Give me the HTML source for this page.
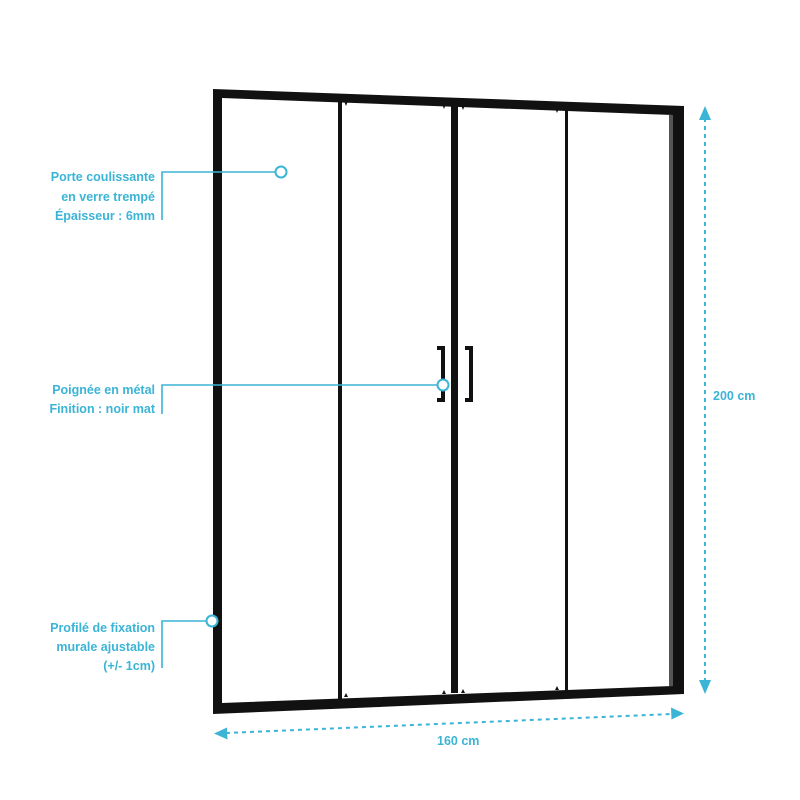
<!DOCTYPE html>
<html><head><meta charset="utf-8"><style>
html,body{margin:0;padding:0;background:#fff;}
svg{display:block;}
text{font-family:"Liberation Sans",sans-serif;font-size:12.5px;font-weight:bold;fill:#3bb4d6;}
</style></head><body>
<svg width="800" height="800" viewBox="0 0 800 800" xmlns="http://www.w3.org/2000/svg">
<path d="M213,89 L684,106 L684,694 L213,714 Z M222,98 L222,703 L673,686 L673,115 Z" fill="#111" fill-rule="evenodd"/>
<rect x="669" y="115" width="4" height="571" fill="#555"/>
<rect x="338" y="101" width="4" height="602" fill="#111"/>
<rect x="451" y="105" width="7" height="588" fill="#111"/>
<rect x="565" y="108" width="3" height="583" fill="#111"/>
<g fill="#111">
<path d="M344,101 l4,0 l-2,5 z"/><path d="M442,104 l4,0 l-2,5 z"/><path d="M461,105 l4,0 l-2,5 z"/><path d="M555,108 l4,0 l-2,5 z"/>
<path d="M346,693 l-2,4 l4,0 z"/><path d="M444,690 l-2,4 l4,0 z"/><path d="M463,689 l-2,4 l4,0 z"/><path d="M557,686 l-2,4 l4,0 z"/>
</g>
<path d="M437,346 h8 v56 h-8 v-4 h4 v-48 h-4 z" fill="#111"/>
<path d="M465,346 h8 v56 h-8 v-4 h4 v-48 h-4 z" fill="#111"/>
<g stroke="#3bb4d6" stroke-width="1.6" fill="none">
<path d="M162,220 V172 H276"/><circle cx="281" cy="172" r="5.5" fill="#fff" stroke-width="2"/>
<path d="M162,414 V385 H438"/><circle cx="443" cy="385" r="5.5" fill="#fff" stroke-width="2"/>
<path d="M162,668 V621 H207"/><circle cx="212" cy="621" r="5.5" fill="#fff" stroke-width="2"/>
<path d="M705,118 V684" stroke-width="2" stroke-dasharray="4,4"/>
<path d="M226,733 L672,714" stroke-width="2" stroke-dasharray="4,4"/>
</g>
<g fill="#3bb4d6">
<path d="M705,106 l-6,14 l12,0 z"/>
<path d="M705,694 l-6,-14 l12,0 z"/>
<path d="M214,733.5 l13,-6 l0.5,12 z"/>
<path d="M684,713.5 l-13,-6 l0.5,12 z"/>
</g>
<g text-anchor="end">
<text x="155" y="181">Porte coulissante</text>
<text x="155" y="201">en verre trempé</text>
<text x="155" y="220">Épaisseur : 6mm</text>
<text x="155" y="394">Poignée en métal</text>
<text x="155" y="413">Finition : noir mat</text>
<text x="155" y="632">Profilé de fixation</text>
<text x="155" y="651">murale ajustable</text>
<text x="155" y="670">(+/- 1cm)</text>
</g>
<text x="713" y="400">200 cm</text>
<text x="437" y="745">160 cm</text>
</svg>
</body></html>
